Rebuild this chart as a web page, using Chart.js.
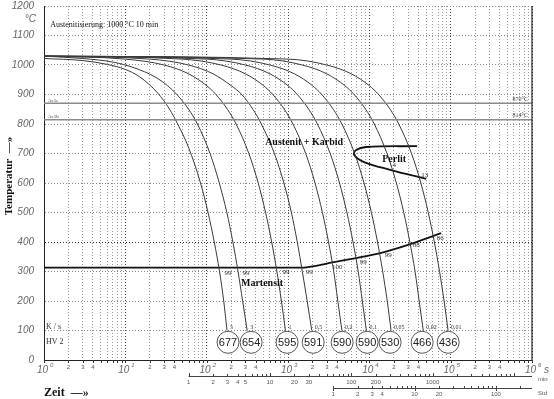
<!DOCTYPE html>
<html>
<head>
<meta charset="utf-8">
<script src="https://cdn.jsdelivr.net/npm/chart.js@4.4.1/dist/chart.umd.min.js"></script>
<style>
  body { margin: 0; background: #fff; }
  canvas { display: block; }
</style>
</head>
<body>
<canvas id="chart" width="554" height="399"></canvas>
<script>
// Cooling rates (K/s) and hardness (HV 2) per curve
const rateLabels = ['5', '3', '1', '0,5', '0,2', '0,1', '0,05', '0,02', '0,01'];
const hardness = [677, 654, 595, 591, 590, 590, 530, 466, 436];
const hardnessTimes = [183, 352, 975, 2040, 4630, 9390, 18000, 44600, 93200];
const hardnessTemp = 60;

// Cooling curves: [time s, temperature °C]
const curve1 = [[1, 1022], [3, 1015], [6, 1002], [10, 985], [15, 960], [25, 905], [35, 850], [44, 800], [60, 720], [84, 600], [104, 500], [124, 400], [144, 300], [162, 200], [178, 100]];
const curve2 = [[1, 1030], [3, 1022], [7, 1010], [13, 990], [23, 960], [33, 930], [43, 900], [60, 850], [77, 800], [110, 700], [143, 600], [177, 500], [210, 400], [243, 300], [277, 200], [315, 100]];
const curve3 = [[1, 1030], [10, 1020], [30, 1000], [60, 970], [100, 930], [130, 900], [180, 850], [230, 800], [330, 700], [430, 600], [530, 500], [630, 400], [730, 300], [830, 200], [930, 100]];
const curve4 = [[1, 1030], [20, 1020], [60, 1000], [120, 970], [200, 930], [270, 900], [370, 850], [470, 800], [680, 700], [890, 600], [1100, 500], [1300, 400], [1500, 300], [1720, 200], [1960, 100]];
const curve5 = [[1, 1030], [50, 1020], [150, 1000], [300, 970], [500, 930], [650, 900], [900, 850], [1150, 800], [1650, 700], [2150, 600], [2650, 500], [3150, 400], [3650, 300], [4100, 200], [4600, 100]];
const curve6 = [[1, 1030], [100, 1020], [300, 1000], [600, 970], [1000, 930], [1300, 900], [1800, 850], [2300, 800], [3300, 700], [4300, 600], [5300, 500], [6300, 400], [7300, 300], [8200, 200], [9200, 100]];
const curve7 = [[1, 1030], [200, 1020], [600, 1000], [1200, 970], [2000, 930], [2600, 900], [3600, 850], [4600, 800], [6600, 700], [8600, 600], [10600, 500], [12600, 400], [14600, 300], [16600, 200], [18500, 100]];
const curve8 = [[1, 1030], [500, 1020], [1500, 1000], [3000, 970], [5000, 930], [6500, 900], [9000, 850], [11500, 800], [16500, 700], [21500, 600], [26500, 500], [31500, 400], [36500, 300], [41000, 200], [46000, 100]];
const curve9 = [[1, 1030], [1000, 1020], [3000, 1000], [6000, 970], [10000, 930], [13000, 900], [18000, 850], [23000, 800], [33000, 700], [43000, 600], [53000, 500], [63000, 400], [73000, 300], [83000, 200], [93000, 100]];
const coolingCurves = [curve1, curve2, curve3, curve4, curve5, curve6, curve7, curve8, curve9];

// Martensite start / bainite line and pearlite region
const msLine = [[1, 313], [1400, 313], [3700, 332], [7100, 346], [15200, 366], [35600, 397], [76400, 430]];
const perlitLine = [[38700, 725], [9140, 722], [6890, 712], [6500, 695], [8630, 671], [18540, 644], [50000, 614]];
const ac1e = 870;
const ac1b = 814;

// Percentages below the Ms line
const msLabelTimes = [183, 305, 948, 1820, 4020, 8390, 17030, 37650, 74300];
const msLabelTemps = [295, 295, 298, 298, 315, 332, 356, 390, 414];
const msLabelTexts = ['99', '99', '99', '99', '100', '99', '99', '88', '86'];

// Axis labels
const decades = [0, 1, 2, 3, 4, 5, 6];
const minorLabels = [2, 3, 4];
const minLabels = [1, 2, 3, 4, 5, 10, 20, 30, 100, 200, 1000];
const hourLabels = [1, 2, 3, 4, 10, 20, 100];

const SERIF = '"Liberation Serif", "Times New Roman", serif';
const SANS = '"Liberation Sans", Arial, sans-serif';

// Grid values on the time axis
const xGrid = [];
decades.slice(0, -1).forEach((d) => {
    for (let m = 1; m < 10; m++) xGrid.push(m * Math.pow(10, d));
});
xGrid.push(1e6);

const toPoints = (arr) => arr.map((p) => ({ x: p[0], y: p[1] }));

const datasets = [];
[ac1e, ac1b].forEach((t) => {
    datasets.push({
        data: [{ x: 1, y: t }, { x: 1e6, y: t }],
        borderColor: '#8a8a8a', borderWidth: 1.5, pointRadius: 0, showLine: true,
    });
});
coolingCurves.forEach((c) => {
    datasets.push({
        data: toPoints(c),
        borderColor: '#3a3a3a', borderWidth: 1, pointRadius: 0, showLine: true,
        cubicInterpolationMode: 'monotone',
    });
});
datasets.push({
    data: toPoints(msLine),
    borderColor: '#111', borderWidth: 1.8, pointRadius: 0, showLine: true,
    cubicInterpolationMode: 'monotone',
});
datasets.push({
    data: toPoints(perlitLine),
    borderColor: '#111', borderWidth: 1.8, pointRadius: 0, showLine: true, tension: 0.4,
});
datasets.push({
    data: hardnessTimes.map((t) => ({ x: t, y: hardnessTemp })),
    showLine: false, pointRadius: 11, pointHoverRadius: 11,
    pointBackgroundColor: '#fff', pointBorderColor: '#555', pointBorderWidth: 1,
});

// Texts and secondary axes
const overlay = {
    id: 'overlay',
    afterDatasetsDraw(chart) {
        const { ctx, chartArea, scales: { x, y } } = chart;
        const px = (t) => x.getPixelForValue(t);
        const py = (T) => y.getPixelForValue(T);
        const text = (s, X, Y, font, align, color) => {
            ctx.font = font;
            ctx.textAlign = align || 'left';
            ctx.fillStyle = color || '#111';
            ctx.fillText(s, X, Y);
        };
        ctx.save();
        ctx.textBaseline = 'middle';

        // right border
        ctx.strokeStyle = '#223';
        ctx.lineWidth = 1.2;
        ctx.beginPath();
        ctx.moveTo(chartArea.right, chartArea.top);
        ctx.lineTo(chartArea.right, chartArea.bottom);
        ctx.stroke();

        // hardness circles
        hardness.forEach((h, i) => {
            text(String(h), px(hardnessTimes[i]), py(hardnessTemp) + 0.5, '11px ' + SANS, 'center', '#222');
        });
        // cooling rate labels
        coolingCurves.forEach((c, i) => {
            const last = c[c.length - 1];
            text(rateLabels[i], px(last[0]) + 3, py(last[1]) - 3, '6px ' + SERIF, 'left', '#333');
        });
        // Ms labels
        msLabelTexts.forEach((s, i) => {
            text(s, px(msLabelTimes[i]), py(msLabelTemps[i]), '7px ' + SERIF, 'center', '#333');
        });
        text('4', px(20200), py(660), '7px ' + SERIF, 'center', '#222');
        text('13', px(48000), py(625), '7px ' + SERIF, 'center', '#222');

        // region names
        text('Austenit + Karbid', px(1578), py(736), 'bold 10px ' + SERIF, 'center');
        text('Perlit', px(20200), py(681), 'bold 10px ' + SERIF, 'center');
        text('Martensit', px(480), py(261), 'bold 10px ' + SERIF, 'center');
        text('Austenitisierung: 1000 °C 10 min', px(1.19), py(1136), '8px ' + SERIF, 'left');
        text('K / s', px(1.06), py(112), '8px ' + SERIF, 'left', '#333');
        text('HV 2', px(1.06), py(61), '8px ' + SERIF, 'left', '#333');
        text('Ac1e', px(1.12), py(878), '5px ' + SERIF, 'left', '#444');
        text('Ac1b', px(1.12), py(824), '5px ' + SERIF, 'left', '#444');
        text(ac1e + '°C', chartArea.right - 4, py(ac1e) - 4, '6px ' + SERIF, 'right', '#444');
        text(ac1b + '°C', chartArea.right - 4, py(ac1b) - 4, '6px ' + SERIF, 'right', '#444');
        text('°C', chartArea.left - 8, py(1155), 'italic 10px ' + SANS, 'right', '#666');

        // time axis ticks and labels
        ctx.strokeStyle = '#333';
        ctx.lineWidth = 1;
        xGrid.forEach((v) => {
            const X = Math.round(px(v)) + 0.5;
            ctx.beginPath();
            ctx.moveTo(X, chartArea.bottom);
            ctx.lineTo(X, chartArea.bottom + 3);
            ctx.stroke();
        });
        decades.forEach((d) => {
            const X = px(Math.pow(10, d));
            text('10', X + 4, chartArea.bottom + 10, 'italic 10px ' + SANS, 'right', '#666');
            text(String(d), X + 6, chartArea.bottom + 5, 'italic 6px ' + SANS, 'left', '#666');
            if (d < 6) {
                minorLabels.forEach((m) => {
                    text(String(m), px(m * Math.pow(10, d)), chartArea.bottom + 7, '6px ' + SANS, 'center', '#555');
                });
            }
        });
        text('s', chartArea.right + 12, chartArea.bottom + 10, 'italic 10px ' + SANS, 'left', '#666');

        // minutes axis
        const minY = chartArea.bottom + 16;
        ctx.strokeStyle = '#444';
        ctx.beginPath();
        ctx.moveTo(px(60), minY + 0.5);
        ctx.lineTo(chartArea.right, minY + 0.5);
        ctx.stroke();
        [1, 10, 100, 1000, 10000].forEach((d) => {
            for (let m = 1; m < 10; m++) {
                const s = m * d * 60;
                if (s > 1e6) break;
                const X = Math.round(px(s)) + 0.5;
                ctx.beginPath();
                ctx.moveTo(X, minY - (m === 1 ? 3 : 2));
                ctx.lineTo(X, minY);
                ctx.stroke();
            }
        });
        minLabels.forEach((m) => {
            text(String(m), px(m * 60), minY + 6, '6px ' + SANS, 'center', '#555');
        });
        text('min', chartArea.right + 6, minY + 3, '6px ' + SANS, 'left', '#555');

        // hours axis
        const hY = chartArea.bottom + 28;
        ctx.beginPath();
        ctx.moveTo(px(3600), hY + 0.5);
        ctx.lineTo(chartArea.right, hY + 0.5);
        ctx.stroke();
        [1, 10, 100].forEach((d) => {
            for (let m = 1; m < 10; m++) {
                const s = m * d * 3600;
                if (s > 1e6) break;
                const X = Math.round(px(s)) + 0.5;
                ctx.beginPath();
                ctx.moveTo(X, hY - 2);
                ctx.lineTo(X, hY + (m === 1 ? 3 : 0));
                ctx.stroke();
            }
        });
        hourLabels.forEach((h) => {
            text(String(h), px(h * 3600), hY + 6, '6px ' + SANS, 'center', '#555');
        });
        text('Std', chartArea.right + 6, hY + 5, '6px ' + SANS, 'left', '#555');

        // axis titles
        text('Zeit  —»', chartArea.left, chartArea.bottom + 33, 'bold 12px ' + SERIF, 'left');
        ctx.translate(9, 176);
        ctx.rotate(-Math.PI / 2);
        text('Temperatur  —»', 0, 0, 'bold 11px ' + SERIF, 'center');
        ctx.restore();
    },
};

new Chart(document.getElementById('chart'), {
    type: 'scatter',
    data: { datasets },
    options: {
        responsive: false,
        animation: false,
        events: [],
        layout: { autoPadding: false, padding: { top: 6, right: 22, left: 0, bottom: 0 } },
        plugins: { legend: { display: false }, tooltip: { enabled: false } },
        scales: {
            x: {
                type: 'logarithmic',
                min: 1,
                max: 1e6,
                afterBuildTicks: (scale) => { scale.ticks = xGrid.map((v) => ({ value: v })); },
                afterFit: (scale) => {
                    scale.height = 39;
                    scale.paddingLeft = 0;
                    scale.paddingRight = 0;
                },
                ticks: { display: false },
                grid: {
                    drawTicks: false,
                    color: (c) => {
                        const v = c.tick ? c.tick.value : 0;
                        return Math.abs(Math.log10(v) % 1) < 1e-6 ? '#444' : '#9a9a9a';
                    },
                },
                border: { color: '#222', width: 1, dash: [1, 2] },
            },
            y: {
                min: 0,
                max: 1200,
                afterFit: (scale) => {
                    scale.width = 44;
                    scale.paddingTop = 0;
                    scale.paddingBottom = 0;
                },
                ticks: {
                    stepSize: 100,
                    padding: 10,
                    color: '#666',
                    font: { family: SANS, style: 'italic', size: 10 },
                    callback: (v) => String(v),
                },
                grid: {
                    drawTicks: false,
                    color: (c) => (c.tick && c.tick.value === 400 ? '#333' : '#8a8a8a'),
                },
                border: { color: '#222', width: 1, dash: [1, 2] },
            },
        },
    },
    plugins: [overlay],
});
</script>
</body>
</html>
